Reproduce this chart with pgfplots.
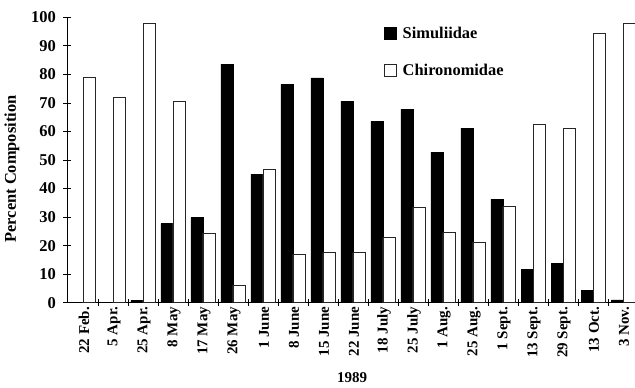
\documentclass[border=0pt]{standalone}
\usepackage{pgfplots}
\pgfplotsset{compat=1.18}
\usepackage{pgfplotstable}
\usepackage{fontspec}
\setmainfont{Liberation Serif}

\pgfplotstableread{
x sim chi
0 0 79.0
1 0 72.0
2 0.9 97.9
3 27.7 70.6
4 29.8 24.4
5 83.6 6.1
6 45.0 46.8
7 76.5 16.9
8 78.8 17.5
9 70.6 17.5
10 63.5 22.8
11 67.8 33.4
12 52.8 24.5
13 61.2 21.2
14 36.3 33.6
15 11.8 62.5
16 13.7 61.1
17 4.3 94.5
18 1.0 97.7
}\data

\newcommand{\xtfont}{\bfseries\fontsize{15}{18}\selectfont}
\newcommand{\ytfont}{\bfseries\fontsize{16.5}{19}\selectfont}
\newcommand{\lgfont}{\bfseries\fontsize{16.4}{19}\selectfont}

\begin{document}
\begin{tikzpicture}
\begin{axis}[
  scale only axis, width=568pt, height=285.4pt,
  xmin=-0.533, xmax=18.4, ymin=0, ymax=100,
  axis x line*=bottom, axis y line*=left,
  axis line style={-, line width=0.8pt},
  /pgf/number format/assume math mode=true,
  xtick={0,...,18},
  xticklabels={22 Feb.,5 Apr.,25 Apr.,8 May,17 May,26 May,1 June,8 June,15 June,22 June,18 July,25 July,1 Aug.,25 Aug.,1 Sept.,13 Sept.,29 Sept.,13 Oct.,3 Nov.},
  minor xtick={0.5,1.5,...,17.5},
  major x tick style={draw=none},
  minor x tick style={line width=0.8pt, black},
  ytick={0,10,...,100},
  y tick style={line width=0.8pt, black},
  tick align=center,
  major tick length=8pt, minor tick length=7pt,
  xticklabel style={rotate=90, anchor=east, font=\xtfont, inner sep=0pt, yshift=-1pt},
  yticklabel style={font=\ytfont, inner sep=0pt, xshift=-7pt},
  xlabel={1989},
  xlabel style={font=\xtfont, at={(rel axis cs:0.5018,0)}, anchor=base, yshift=-79.3pt},
  ylabel={Percent Composition},
  ylabel style={font=\lgfont, at={(rel axis cs:-0.0968,0.4685)}, anchor=center},
  legend style={draw=none, fill=none, at={(rel axis cs:0.558,0.9695)}, anchor=north west,
    font=\lgfont, row sep=22pt, inner xsep=0pt, inner ysep=0pt, nodes={inner sep=1pt},
    /tikz/every odd column/.append style={column sep=5pt}},
  legend cell align=left,
  legend image code/.code={\draw[#1, line width=0.6pt] (0pt,-6pt) rectangle (12pt,6pt);},
]
\addplot[ybar, bar width=0.4, bar shift=-0.2, fill=black, draw=black, line width=0.6pt] table[x=x,y=sim]{\data};
\addlegendentry{Simuliidae}
\addplot[ybar, bar width=0.4, bar shift=0.2, fill=white, draw=black!85, line width=0.8pt] table[x=x,y=chi]{\data};
\addlegendentry{Chironomidae}
\end{axis}
\pgfresetboundingbox
\path (current axis.south west) ++(-67pt,-85.3pt) rectangle ++(635pt,388pt);
\end{tikzpicture}
\end{document}
